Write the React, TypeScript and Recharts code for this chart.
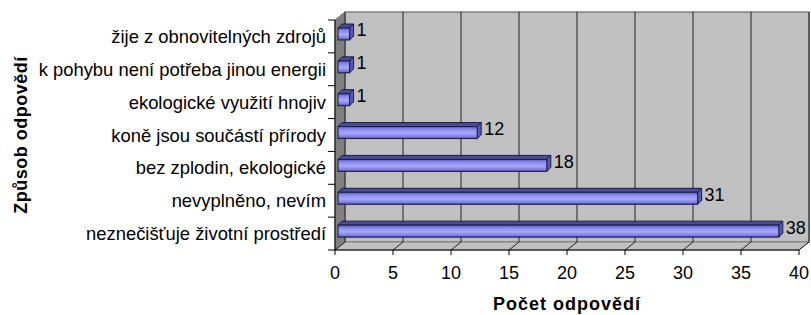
import React from 'react';
import { BarChart, Bar, XAxis, YAxis, CartesianGrid, ReferenceArea, LabelList, Label } from 'recharts';

// categories top to bottom
const categories = [
  'žije z obnovitelných zdrojů',
  'k pohybu není potřeba jinou energii',
  'ekologické využití hnojiv',
  'koně jsou součástí přírody',
  'bez zplodin, ekologické',
  'nevyplněno, nevím',
  'neznečišťuje životní prostředí'
];
const counts = [1, 1, 1, 12, 18, 31, 38];
const xTicks = [0, 5, 10, 15, 20, 25, 30, 35, 40];

const data = categories.map((name, i) => ({ name, value: counts[i] }));

const DX = 10;
const DY = 8;
const FONT = '"Liberation Sans", Arial, sans-serif';

const Walls = (props: any) => {
  const { x, y, width, height } = props;
  return (
    <g>
      <polygon
        points={`${x},${y} ${x + DX},${y - DY} ${x + DX},${y + height - DY} ${x},${y + height}`}
        fill="#808080"
        stroke="#707070"
      />
      <rect x={x + DX} y={y - DY} width={width} height={height} fill="#c0c0c0" stroke="#808080" strokeWidth={1.5} />
      <polygon
        points={`${x},${y + height} ${x + width},${y + height} ${x + width + DX},${y + height - DY} ${x + DX},${y + height - DY}`}
        fill="#c0c0c0"
        stroke="#808080"
      />
    </g>
  );
};

const GridLine = (props: any) => {
  const { x1, y1, y2 } = props;
  return (
    <g key={props.key}>
      <line x1={x1 + DX} y1={y1 - DY} x2={x1 + DX} y2={y2 - DY} stroke="#222" strokeWidth={1} />
      <line x1={x1} y1={y2} x2={x1 + DX} y2={y2 - DY} stroke="#222" strokeWidth={1} />
    </g>
  );
};

const Box3D = (props: any) => {
  const { x, y, width, height } = props;
  const d = 4;
  const fx = x + 3;
  const fy = y - 2;
  const w = width;
  const h = height;
  return (
    <g stroke="#1c1c44" strokeWidth={1}>
      <polygon points={`${fx},${fy} ${fx + d},${fy - d} ${fx + w + d},${fy - d} ${fx + w},${fy}`} fill="#4c4c96" />
      <polygon points={`${fx + w},${fy} ${fx + w + d},${fy - d} ${fx + w + d},${fy + h - d} ${fx + w},${fy + h}`} fill="#5a5ab0" />
      <rect x={fx} y={fy} width={w} height={h} fill="url(#barGrad)" />
    </g>
  );
};

const ValueLabel = (props: any) => {
  const { x, y, width, height, value } = props;
  return (
    <text
      x={x + width + 10}
      y={y + height / 2 - 6}
      dy="0.355em"
      fontSize={18}
      fontFamily={FONT}
      fill="#000"
    >
      {value}
    </text>
  );
};

const CategoryTick = (props: any) => {
  const { x, y, payload, index } = props;
  const off = payload.offset || 0;
  const ax = x + 2;
  return (
    <g>
      <text x={x} y={y} dy="0.355em" textAnchor="end" fontSize={18.4} fontFamily={FONT} fill="#000">
        {payload.value}
      </text>
      <line x1={ax} y1={y - off} x2={ax + 7} y2={y - off} stroke="#000" />
      {index === categories.length - 1 && <line x1={ax} y1={y + off} x2={ax + 7} y2={y + off} stroke="#000" />}
    </g>
  );
};

const XTitle = (props: any) => {
  const vb = props.viewBox;
  return (
    <text
      x={vb.x + vb.width / 2}
      y={vb.y + vb.height - 5}
      textAnchor="middle"
      fontSize={18}
      fontWeight="bold"
      fontFamily={FONT}
      letterSpacing={1}
      fill="#000"
    >
      Počet odpovědí
    </text>
  );
};

const YTitle = (props: any) => {
  const vb = props.viewBox;
  const tx = vb.x + 27;
  const ty = vb.y + vb.height / 2;
  return (
    <text
      x={tx}
      y={ty}
      transform={`rotate(-90, ${tx}, ${ty})`}
      textAnchor="middle"
      fontSize={18}
      fontWeight="bold"
      fontFamily={FONT}
      letterSpacing={0.5}
      fill="#000"
    >
      Způsob odpovědí
    </text>
  );
};

const App: React.FC = () => {
  return (
    <div style={{ position: 'absolute', left: 0, top: 0, width: 811, height: 315, background: '#fff' }}>
      <BarChart
        width={811}
        height={315}
        data={data}
        layout="vertical"
        margin={{ top: 20, right: 12, bottom: 0, left: 0 }}
        barSize={12}
      >
        <defs>
          <linearGradient id="barGrad" x1="0" y1="0" x2="0" y2="1">
            <stop offset="0%" stopColor="#5c5cc0" />
            <stop offset="25%" stopColor="#8c8cf0" />
            <stop offset="55%" stopColor="#a8a8ff" />
            <stop offset="85%" stopColor="#7c7ce0" />
            <stop offset="100%" stopColor="#4a4aa0" />
          </linearGradient>
        </defs>
        <ReferenceArea x1={0} x2={40} shape={<Walls />} zIndex={-200} ifOverflow="visible" />
        <CartesianGrid horizontal={false} vertical={GridLine as any} />
        <XAxis
          type="number"
          domain={[0, 40]}
          ticks={xTicks}
          interval={0}
          height={65}
          axisLine={{ stroke: '#000' }}
          tickLine={{ stroke: '#000' }}
          tickSize={5}
          tickMargin={11}
          tick={{ fontSize: 18, fontFamily: FONT, fill: '#000' }}
        >
          <Label content={<XTitle />} />
        </XAxis>
        <YAxis
          type="category"
          dataKey="name"
          width={335}
          axisLine={{ stroke: '#000' }}
          tickLine={false}
          tickSize={7}
          tickMargin={2}
          interval={0}
          tick={<CategoryTick />}
        >
          <Label content={<YTitle />} />
        </YAxis>
        <Bar dataKey="value" shape={<Box3D />} isAnimationActive={false}>
          <LabelList dataKey="value" content={<ValueLabel />} />
        </Bar>
      </BarChart>
    </div>
  );
};

export default App;
